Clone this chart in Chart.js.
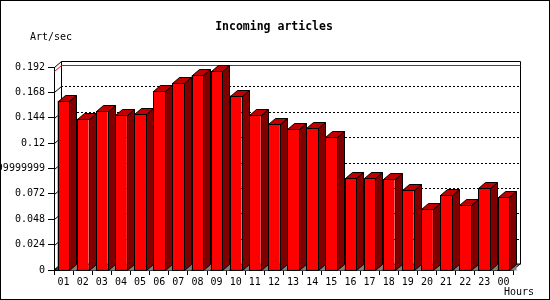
<!DOCTYPE html>
<html>
<head>
<meta charset="utf-8">
<script src="https://cdn.jsdelivr.net/npm/chart.js@4/dist/chart.umd.min.js"></script>
<style>
html,body{margin:0;padding:0;background:#fff;}
#wrap{width:550px;height:300px;position:relative;}
</style>
</head>
<body>
<div id="wrap"><canvas id="c" width="550" height="300"></canvas></div>
<script>
const titleText = 'Incoming articles';
const yAxisLabel = 'Art/sec';
const xAxisLabel = 'Hours';
const hours = ['01','02','03','04','05','06','07','08','09','10','11','12','13','14','15','16','17','18','19','20','21','22','23','00'];
const artPerSec = [0.160,0.143,0.150,0.147,0.148,0.169,0.177,0.184,0.188,0.165,0.147,0.138,0.133,0.134,0.126,0.087,0.087,0.086,0.0755,0.0575,0.0707,0.0613,0.0774,0.0688];
const yTickValues = [0,0.024,0.048,0.072,0.096,0.12,0.144,0.168,0.192];
const yTickLabels = ['0','0.024','0.048','0.072','0.09599999999999999','0.12','0.144','0.168','0.192'];

const DX = 7, DY = 6;
const FONT = "'DejaVu Sans Mono', monospace";

const threeD = {
  id: 'threeD',
  beforeDatasetsDraw(chart) {
    const ctx = chart.ctx;
    const a = chart.chartArea;
    const ys = chart.scales.y;
    const L = a.left, R = a.right, T = a.top, B = a.bottom;
    ctx.save();
    ctx.lineWidth = 1;
    // floor
    ctx.fillStyle = '#808080';
    ctx.beginPath();
    ctx.moveTo(L, B); ctx.lineTo(R, B); ctx.lineTo(R + DX, B - DY); ctx.lineTo(L + DX, B - DY); ctx.closePath();
    ctx.fill();
    ctx.strokeStyle = '#000';
    ctx.stroke();
    // dashed back-wall gridlines + left-wall diagonals
    yTickValues.forEach(v => {
      const y = Math.round(ys.getPixelForValue(v));
      if (v > 0 && v < yTickValues[yTickValues.length - 1]) {
        ctx.setLineDash([2, 2]);
        ctx.beginPath();
        ctx.moveTo(L + DX, y - DY + 0.5); ctx.lineTo(R + DX, y - DY + 0.5);
        ctx.stroke();
        ctx.setLineDash([]);
      }
      ctx.beginPath();
      ctx.moveTo(L + 0.5, y + 0.5); ctx.lineTo(L + DX + 0.5, y - DY + 0.5);
      ctx.stroke();
    });
    // back wall box
    ctx.beginPath();
    ctx.moveTo(L + DX + 0.5, B - DY + 0.5);
    ctx.lineTo(L + DX + 0.5, Math.round(T) - DY + 0.5);
    ctx.lineTo(R + DX + 0.5, Math.round(T) - DY + 0.5);
    ctx.lineTo(R + DX + 0.5, B - DY + 0.5);
    ctx.stroke();
    // max line (red)
    const mx = Math.max(...artPerSec);
    const my = Math.round(ys.getPixelForValue(mx));
    ctx.strokeStyle = '#ff0000';
    ctx.beginPath();
    ctx.moveTo(L + 0.5, my + 0.5); ctx.lineTo(L + DX + 0.5, my - DY + 0.5);
    ctx.lineTo(R + DX + 0.5, my - DY + 0.5);
    ctx.stroke();
    ctx.restore();
  },
  afterDatasetsDraw(chart) {
    const ctx = chart.ctx;
    const meta = chart.getDatasetMeta(0);
    ctx.save();
    ctx.lineWidth = 1;
    ctx.strokeStyle = '#000';
    meta.data.forEach(bar => {
      const p = bar.getProps(['x', 'y', 'base', 'width'], true);
      const l = Math.round(p.x - p.width / 2) + 0.5;
      const r = Math.round(p.x + p.width / 2) + 0.5;
      const t = Math.round(p.y) + 0.5;
      const b = Math.round(p.base) + 0.5;
      ctx.fillStyle = '#808080';
      ctx.beginPath();
      ctx.moveTo(r, b); ctx.lineTo(r + DX, b - DY); ctx.lineTo(r + DX, b); ctx.closePath();
      ctx.fill();
      ctx.fillStyle = '#800000';
      ctx.beginPath();
      ctx.moveTo(r, t); ctx.lineTo(r + DX, t - DY); ctx.lineTo(r + DX, b - DY); ctx.lineTo(r, b); ctx.closePath();
      ctx.fill(); ctx.stroke();
      ctx.fillStyle = '#c00000';
      ctx.beginPath();
      ctx.moveTo(l, t); ctx.lineTo(l + DX, t - DY); ctx.lineTo(r + DX, t - DY); ctx.lineTo(r, t); ctx.closePath();
      ctx.fill(); ctx.stroke();
      ctx.strokeRect(l, t, r - l, b - t);
    });
    ctx.restore();
  },
  afterDraw(chart) {
    const ctx = chart.ctx;
    ctx.save();
    ctx.fillStyle = '#000';
    ctx.textBaseline = 'middle';
    ctx.font = 'bold 11.5px ' + FONT;
    ctx.textAlign = 'center';
    ctx.fillText(titleText, 274, 27);
    ctx.font = '10px ' + FONT;
    ctx.textAlign = 'left';
    ctx.fillText(yAxisLabel, 30, 37);
    ctx.fillText(xAxisLabel, 504, 292);
    ctx.strokeStyle = '#000';
    ctx.lineWidth = 1;
    ctx.strokeRect(0.5, 0.5, 549, 299);
    ctx.restore();
  }
};

Chart.defaults.font.family = FONT;
Chart.defaults.font.size = 10;
Chart.defaults.color = '#000';

new Chart(document.getElementById('c'), {
  type: 'bar',
  data: {
    labels: hours,
    datasets: [{
      data: artPerSec,
      backgroundColor: '#ff0000',
      borderWidth: 0,
      categoryPercentage: 1,
      barPercentage: 0.62
    }]
  },
  options: {
    responsive: false,
    animation: false,
    events: [],
    layout: { padding: { left: 0, right: 37, top: 67, bottom: 0 } },
    plugins: {
      legend: { display: false },
      tooltip: { enabled: false },
      title: { display: false }
    },
    scales: {
      x: {
        grid: { display: true, drawOnChartArea: false, drawTicks: true, tickLength: 5, color: '#000', offset: true },
        border: { display: true, color: '#000' },
        ticks: { padding: 1, maxRotation: 0, autoSkip: false, font: { size: 10 } },
        afterFit(s) { s.height = 30; }
      },
      y: {
        min: 0, max: 0.192,
        afterBuildTicks(s) { s.ticks = yTickValues.map(v => ({ value: v })); },
        grid: { display: true, drawOnChartArea: false, drawTicks: true, tickLength: 6, color: '#000' },
        border: { display: true, color: '#000' },
        ticks: { padding: 3, callback: (v, i) => yTickLabels[i], font: { size: 10 } },
        afterFit(s) { s.width = 54; }
      }
    }
  },
  plugins: [threeD]
});
</script>
</body>
</html>
